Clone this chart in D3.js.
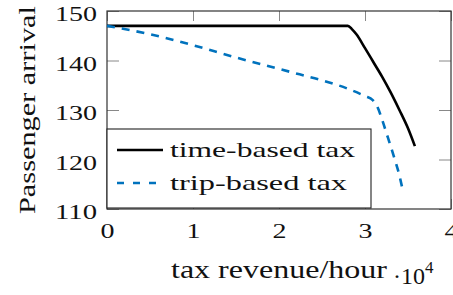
<!DOCTYPE html>
<html>
<head>
<meta charset="utf-8">
<script src="https://cdn.jsdelivr.net/npm/d3@7"></script>
<style>
  body { margin: 0; background: #fff; }
</style>
</head>
<body>
<script>
// revenue in 10^4 per hour, arrivals per hour
const timeX = [0, 2.8, 2.85, 2.9, 3.0, 3.1, 3.2, 3.3, 3.4, 3.5, 3.58];
const timeY = [147, 147, 146.3, 145.3, 142.5, 139.6, 136.7, 133.5, 130.0, 126.3, 122.7];
const tripX = [0, 0.5, 1.0, 1.46, 2.0, 2.24, 2.5, 2.8, 3.0, 3.09, 3.15, 3.2, 3.25, 3.3, 3.35, 3.4, 3.43];
const tripY = [147, 145.3, 143.1, 140.8, 138.3, 137.2, 136.0, 134.3, 132.8, 132.0, 130.4, 128.0, 125.3, 122.6, 119.8, 116.8, 114.5];
const xTicks = [0, 1, 2, 3, 4];
const yTicks = [110, 120, 130, 140, 150];
const legendNames = ["time-based tax", "trip-based tax"];

const width = 453, height = 295;
const margin = {top: 11, right: 2, bottom: 86, left: 107};
const serif = "'Liberation Serif', 'DejaVu Serif', serif";

const svg = d3.select("body").append("svg")
    .attr("width", width)
    .attr("height", height)
    .style("font-family", serif);

const x = d3.scaleLinear().domain([0, 4]).range([margin.left, width - margin.right]);
const y = d3.scaleLinear().domain([110, 150]).range([height - margin.bottom, margin.top]);

const blue = "#0072BD";
const fmt = d3.format("d");

// ticks on all four sides, pointing in
svg.append("g")
    .attr("transform", `translate(0,${y(110)})`)
    .call(d3.axisBottom(x).tickValues(xTicks).tickFormat(fmt).tickSizeInner(-10).tickSizeOuter(0))
    .call(g => g.select(".domain").remove())
    .call(g => g.selectAll("line").attr("stroke", "#888"))
    .call(g => g.selectAll("text")
        .attr("y", 29).attr("dy", null)
        .style("font-family", serif)
        .attr("font-size", 20)
        .attr("fill", "#111")
        .attr("textLength", d => fmt(d).length * 14)
        .attr("lengthAdjust", "spacingAndGlyphs"));

svg.append("g")
    .attr("transform", `translate(0,${y(150)})`)
    .call(d3.axisTop(x).tickValues(xTicks).tickSizeInner(-10).tickSizeOuter(0).tickFormat(""))
    .call(g => g.select(".domain").remove())
    .call(g => g.selectAll("line").attr("stroke", "#888"));

svg.append("g")
    .attr("transform", `translate(${x(0)},0)`)
    .call(d3.axisLeft(y).tickValues(yTicks).tickFormat(fmt).tickSizeInner(-12).tickSizeOuter(0))
    .call(g => g.select(".domain").remove())
    .call(g => g.selectAll("line").attr("stroke", "#888"))
    .call(g => g.selectAll("text")
        .attr("x", -10).attr("y", 9.5).attr("dy", null)
        .style("font-family", serif)
        .attr("font-size", 20)
        .attr("fill", "#111")
        .attr("textLength", d => fmt(d).length * 14)
        .attr("lengthAdjust", "spacingAndGlyphs"));

svg.append("g")
    .attr("transform", `translate(${x(4)},0)`)
    .call(d3.axisRight(y).tickValues(yTicks).tickSizeInner(-12).tickSizeOuter(0).tickFormat(""))
    .call(g => g.select(".domain").remove())
    .call(g => g.selectAll("line").attr("stroke", "#888"));

// frame
svg.append("rect")
    .attr("x", x(0)).attr("y", y(150))
    .attr("width", x(4) - x(0)).attr("height", y(110) - y(150))
    .attr("fill", "none").attr("stroke", "#333").attr("stroke-width", 1.2);

const line = d3.line()
    .x(d => x(d[0]))
    .y(d => y(d[1]))
    .curve(d3.curveMonotoneX);

svg.append("path")
    .datum(d3.zip(timeX, timeY))
    .attr("d", line)
    .attr("fill", "none")
    .attr("stroke", "#000")
    .attr("stroke-width", 2.6);

svg.append("path")
    .datum(d3.zip(tripX, tripY))
    .attr("d", line)
    .attr("fill", "none")
    .attr("stroke", blue)
    .attr("stroke-width", 2.6)
    .attr("stroke-dasharray", "8,7");

// legend
const legend = svg.append("g");
legend.append("rect")
    .attr("x", 107).attr("y", 129)
    .attr("width", 264).attr("height", 79)
    .attr("fill", "#fff").attr("stroke", "#222").attr("stroke-width", 1.1);

const rows = [
    {name: legendNames[0], color: "#000", dash: null, y: 150, len: 185},
    {name: legendNames[1], color: blue, dash: "7,9", y: 183, len: 177}
];
rows.forEach(r => {
    legend.append("line")
        .attr("x1", 117).attr("x2", 163)
        .attr("y1", r.y).attr("y2", r.y)
        .attr("stroke", r.color)
        .attr("stroke-width", 2.6)
        .attr("stroke-dasharray", r.dash);
    legend.append("text")
        .attr("x", 170).attr("y", r.y + 7)
        .attr("font-size", 21)
        .attr("fill", "#111")
        .attr("textLength", r.len)
        .attr("lengthAdjust", "spacingAndGlyphs")
        .text(r.name);
});

// axis labels
svg.append("text")
    .attr("x", 171).attr("y", 278)
    .attr("font-size", 26)
    .attr("fill", "#111")
    .attr("textLength", 216)
    .attr("lengthAdjust", "spacingAndGlyphs")
    .text("tax revenue/hour");

const scaleLabel = svg.append("text")
    .attr("x", 393).attr("y", 284)
    .attr("font-size", 24)
    .attr("fill", "#111");
scaleLabel.append("tspan").text("·10");
scaleLabel.append("tspan")
    .attr("dy", -11)
    .attr("font-size", 17)
    .text("4");

svg.append("text")
    .attr("transform", "translate(35,214) rotate(-90)")
    .attr("font-size", 24)
    .attr("fill", "#111")
    .attr("textLength", 208)
    .attr("lengthAdjust", "spacingAndGlyphs")
    .text("Passenger arrival");
</script>
</body>
</html>
